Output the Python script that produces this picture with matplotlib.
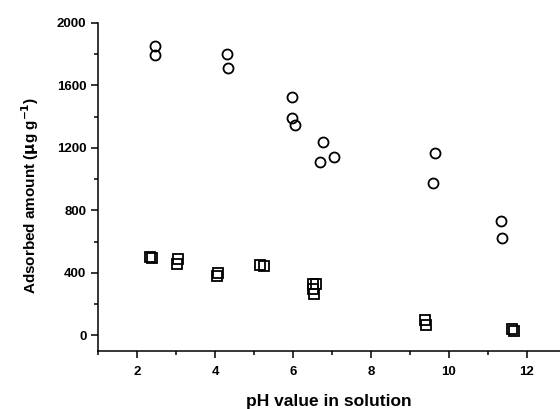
import matplotlib
matplotlib.use('Agg')
import matplotlib.pyplot as plt
from matplotlib.ticker import MultipleLocator

plt.rcParams['font.family'] = ['Liberation Sans', 'DejaVu Sans']
plt.rcParams['font.weight'] = 'bold'

# circles (upper series)
ph_circ = [2.45, 2.45, 4.31, 4.32, 5.96, 5.97, 6.06, 6.77, 6.70, 7.04, 9.63, 9.58, 11.33, 11.36]
ads_circ = [1852, 1793, 1797, 1709, 1522, 1391, 1344, 1236, 1108, 1140, 1165, 975, 732, 621]

# squares (lower series)
ph_sq = [2.34, 2.38, 3.04, 3.01, 4.06, 4.04, 5.15, 5.26, 6.51, 6.60, 6.51, 6.54, 9.39, 9.40, 11.62, 11.66]
ads_sq = [500, 494, 491, 456, 400, 378, 448, 444, 331, 328, 299, 262, 96, 64, 40, 30]

fig = plt.figure(figsize=(5.6, 4.09), dpi=100)
ax = fig.add_axes([0.1755, 0.1418, 0.8245, 0.8027])

ax.plot(ph_circ, ads_circ, 'o', mfc='none', mec='black', ms=7.2, mew=1.3, clip_on=False)
ax.plot(ph_sq, ads_sq, 's', mfc='none', mec='black', ms=6.5, mew=1.3, clip_on=False)

ax.set_xlim(1, 12.85)
ax.set_ylim(-100, 2000)
ax.xaxis.set_major_locator(MultipleLocator(2))
ax.xaxis.set_minor_locator(MultipleLocator(1))
ax.yaxis.set_major_locator(MultipleLocator(400))
ax.yaxis.set_minor_locator(MultipleLocator(200))

ax.spines['top'].set_visible(False)
ax.spines['right'].set_visible(False)
for s in ['left', 'bottom']:
    ax.spines[s].set_linewidth(1.1)
ax.tick_params(which='major', direction='out', length=5, width=1.1, labelsize=9.5)
ax.tick_params(axis='x', which='major', pad=6)
ax.tick_params(which='minor', direction='out', length=3, width=1.1)

ax.set_xlabel('pH value in solution', fontsize=12.5, fontweight='bold', labelpad=11)
ax.set_ylabel(r'Adsorbed amount ($\mathbf{\mu}$g g$^{\mathbf{-1}}$)', fontsize=11, fontweight='bold')
ax.yaxis.set_label_coords(-0.125, 0.475)

fig.savefig('out.png', dpi=100)
